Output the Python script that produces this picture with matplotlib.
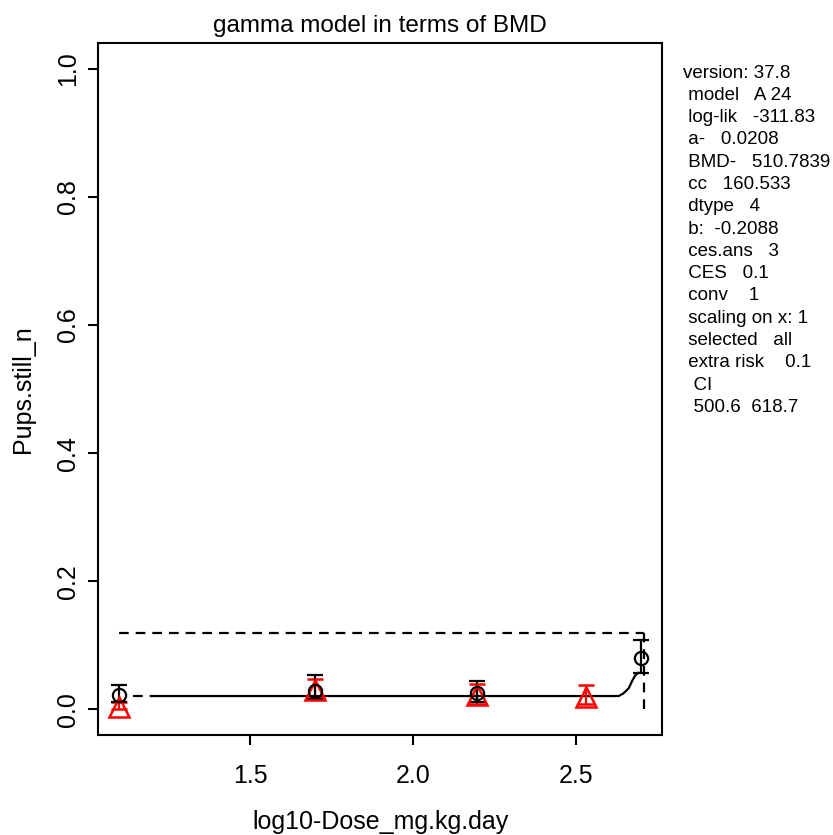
import matplotlib
matplotlib.use("Agg")
import matplotlib.pyplot as plt

plt.rcParams['font.family'] = ['Liberation Sans', 'DejaVu Sans']
plt.rcParams['lines.scale_dashes'] = False

# observed data (black circles with error bars)
obs_x = [1.097, 1.699, 2.197, 2.699]
obs_y = [0.022, 0.028, 0.026, 0.080]
obs_lo = [0.012, 0.016, 0.012, 0.056]
obs_hi = [0.038, 0.053, 0.044, 0.109]

# red triangles with error bars
tri_x = [1.097, 1.699, 2.197, 2.531]
tri_y = [0.003, 0.030, 0.022, 0.020]
tri_lo = [0.000, 0.017, 0.008, 0.008]
tri_hi = [0.012, 0.048, 0.039, 0.038]

# fitted curve
curve_x = [1.197, 2.630, 2.645, 2.661, 2.671, 2.681, 2.690]
curve_y = [0.0208, 0.0208, 0.025, 0.033, 0.044, 0.053, 0.057]
curve_dash_x = [1.140, 1.197]
curve_dash_y = [0.0208, 0.0208]

bmd_x = 2.7082
bmr_y = 0.1187

info_lines = ["version: 37.8", " model   A 24", " log-lik   -311.83", " a-   0.0208",
              " BMD-   510.7839", " cc   160.533", " dtype   4", " b:  -0.2088",
              " ces.ans   3", " CES   0.1", " conv    1", " scaling on x: 1",
              " selected   all", " extra risk    0.1", "  CI", "  500.6  618.7"]

W, H = 833, 835
fig = plt.figure(figsize=(W / 100, H / 100), dpi=100)
ax = fig.add_axes([98 / W, 1 - 735 / H, (662 - 98) / W, (735 - 43) / H])

ax.plot(curve_dash_x, curve_dash_y, color='black', lw=1.6, dashes=(7, 5))
ax.plot(curve_x, curve_y, color='black', lw=1.6)
ax.plot([obs_x[0], bmd_x], [bmr_y, bmr_y], color='black', lw=1.6, dashes=(7, 5))
ax.plot([bmd_x, bmd_x], [0, bmr_y], color='black', lw=1.6, dashes=(7, 5))

ax.errorbar(tri_x, tri_y, yerr=[[y - l for y, l in zip(tri_y, tri_lo)], [h - y for y, h in zip(tri_y, tri_hi)]],
            fmt='^', color='red', mfc='none', mec='red', ms=14, mew=1.8, capsize=6, elinewidth=1.6, capthick=1.8)
ax.errorbar(obs_x, obs_y, yerr=[[y - l for y, l in zip(obs_y, obs_lo)], [h - y for y, h in zip(obs_y, obs_hi)]],
            fmt='o', color='black', mfc='none', mec='black', ms=9.5, mew=1.6, capsize=6, elinewidth=1.6, capthick=1.8)

ax.set_xlim(1.033, 2.763)
ax.set_ylim(-0.04, 1.04)
ax.set_xticks([1.5, 2.0, 2.5])
ax.set_xticklabels(["1.5", "2.0", "2.5"])
ax.set_yticks([0.0, 0.2, 0.4, 0.6, 0.8, 1.0])
ax.set_yticklabels(["0.0", "0.2", "0.4", "0.6", "0.8", "1.0"], rotation=90, va='center')
for s in ax.spines.values():
    s.set_linewidth(1.5)
ax.tick_params(axis='both', direction='out', length=7, width=1.5, labelsize=18)
ax.tick_params(axis='x', pad=14)
ax.tick_params(axis='y', pad=6)

ax.set_title("gamma model in terms of BMD", fontsize=17.5, pad=8)
ax.set_xlabel("log10-Dose_mg.kg.day", fontsize=18, labelpad=16)
ax.set_ylabel("Pups.still_n", fontsize=18, labelpad=15)

for i, line in enumerate(info_lines):
    ypix = 73 + i * 22.3
    fig.text(683 / W, 1 - ypix / H, line, fontsize=13.5, ha='left', va='center')

fig.savefig("out.png", dpi=100)
